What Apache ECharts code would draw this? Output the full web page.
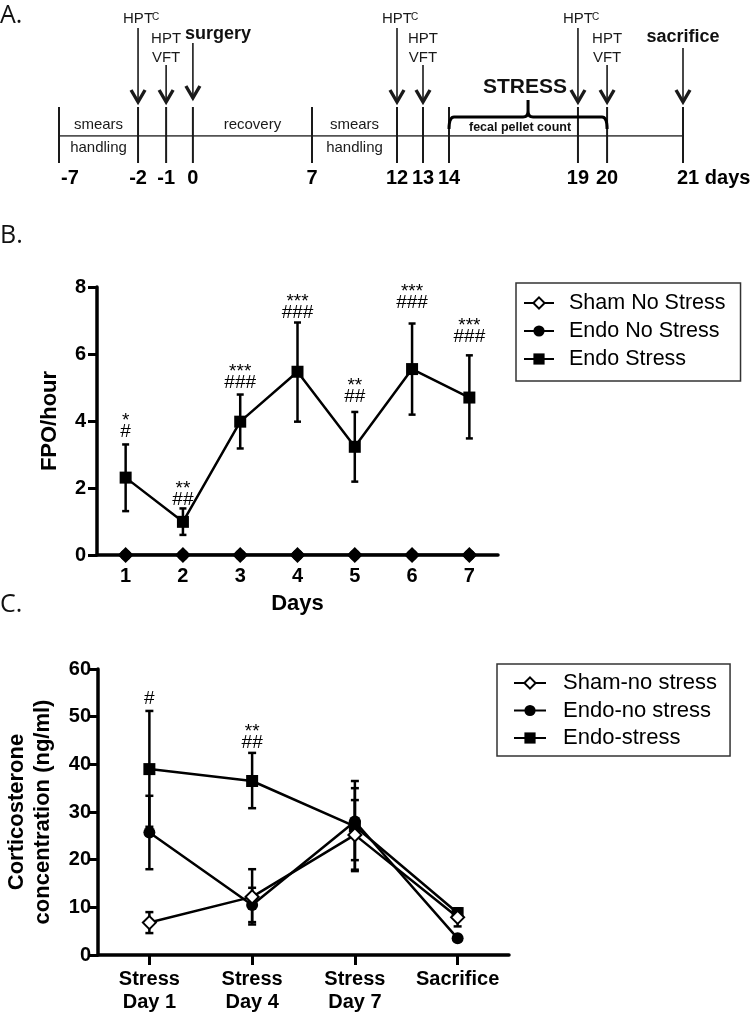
<!DOCTYPE html>
<html><head><meta charset="utf-8">
<script src="https://cdn.jsdelivr.net/npm/echarts@6/dist/echarts.min.js"></script>
<style>html,body{margin:0;padding:0;background:#fff}#c{width:750px;height:1016px}</style>
</head><body><div id="c"></div>
<script>
// ---------- Panel A: timeline (schematic positions) ----------
const timelineDays = ['-7','-2','-1','0','7','12','13','14','19','20','21'];
const timelinePos  = [0, 3.04, 4.12, 5.15, 9.73, 13, 14, 15, 19.96, 21.08, 24];
const eventDays  = ['-2','-1','0','12','13','19','20','21'];
const eventKinds = ['hptc','hptvft','surgery','hptc','hptvft','hptc','hptvft','sacrifice'];
const periodFrom  = ['-7','0','7'];
const periodTo    = ['-2','7','12'];
const periodAbove = ['smears','recovery','smears'];
const periodBelow = ['handling','','handling'];
const stressFrom = '14', stressTo = '20';

// ---------- Panel B: FPO/hour ----------
const fpoDays = ['1','2','3','4','5','6','7'];
const fpoShamNoStress = [0,0,0,0,0,0,0];
const fpoEndoNoStress = [0,0,0,0,0,0,0];
const fpoEndoStress     = [2.31,0.99,3.98,5.47,3.23,5.55,4.70];
const fpoEndoStressLow  = [1.31,0.60,3.18,3.98,2.19,4.19,3.48];
const fpoEndoStressHigh = [3.30,1.39,4.79,6.94,4.27,6.91,5.96];
const fpoStars  = ['*','**','***','***','**','***','***'];
const fpoHashes = ['#','##','###','###','##','###','###'];
const fpoSigY   = [3.67,1.64,5.13,7.22,4.72,7.52,6.51];

// ---------- Panel C: corticosterone ----------
const cortCats = ['Stress\nDay 1','Stress\nDay 4','Stress\nDay 7','Sacrifice'];
const cortSham      = [6.8,12.2,25.2,7.9];
const cortShamLow   = [4.6,6.4,17.9,6.0];
const cortShamHigh  = [9.0,18.0,32.5,9.2];
const cortEndoNo     = [25.7,10.5,28.0,3.5];
const cortEndoNoLow  = [18.0,6.9,19.9,3.0];
const cortEndoNoHigh = [33.4,14.1,35.0,4.0];
const cortEndoStress     = [39.0,36.5,27.0,8.8];
const cortEndoStressLow  = [26.9,30.8,17.6,7.8];
const cortEndoStressHigh = [51.2,42.4,36.5,9.8];
const cortStars  = ['','**'];
const cortHashes = ['#','##'];
const cortSigY   = [53.7,44.5];

const FONT = "'Liberation Sans', Arial, Helvetica, sans-serif";
const INK = '#1a1a1a';
function posOf(d){ return timelinePos[timelineDays.indexOf(d)]; }

function errorBarSeries(gi, low, high, capHalf, z){
  return {
    type:'custom', xAxisIndex:gi, yAxisIndex:gi, z:z||1,
    data: low.map((v,i)=>[i, v, high[i]]),
    renderItem(params, api){
      const a = api.coord([api.value(0), api.value(1)]);
      const b = api.coord([api.value(0), api.value(2)]);
      const st = {stroke:'#000', lineWidth:2.5};
      return {type:'group', children:[
        {type:'line', shape:{x1:a[0],y1:a[1],x2:b[0],y2:b[1]}, style:st},
        {type:'line', shape:{x1:a[0]-capHalf,y1:a[1],x2:a[0]+capHalf,y2:a[1]}, style:st},
        {type:'line', shape:{x1:b[0]-capHalf,y1:b[1],x2:b[0]+capHalf,y2:b[1]}, style:st}
      ]};
    }
  };
}
function sigSeries(gi, yv, stars, hashes){
  return {
    type:'custom', xAxisIndex:gi, yAxisIndex:gi, z:5,
    data: yv.map((v,i)=>[i, v]),
    renderItem(params, api){
      const i = params.dataIndex;
      const p = api.coord([api.value(0), api.value(1)]);
      return {type:'group', children:[
        {type:'text', style:{text:hashes[i], x:p[0], y:p[1], align:'center', verticalAlign:'middle', font:'19px '+FONT, fill:'#000'}},
        {type:'text', style:{text:stars[i], x:p[0], y:p[1]-11, align:'center', verticalAlign:'middle', font:'19px '+FONT, fill:'#000'}}
      ]};
    }
  };
}
function lineSeries(name, gi, data, symbol, size, hollow){
  return {
    name, type:'line', xAxisIndex:gi, yAxisIndex:gi, data, z:3,
    symbol, symbolSize:size, showAllSymbol:true,
    lineStyle:{color:'#000', width:2.5},
    itemStyle: hollow ? {color:'#fff', borderColor:'#000', borderWidth:2} : {color:'#000', borderColor:'#000', borderWidth:0},
    emphasis:{disabled:true}
  };
}

const axisLabelStyle = {color:'#000', fontFamily:FONT, fontWeight:'bold', fontSize:20};
const nameStyle = {color:'#000', fontFamily:FONT, fontWeight:'bold', fontSize:22};
const thickLine = {show:true, lineStyle:{color:'#000', width:3.5}};

const chart = echarts.init(document.getElementById('c'), null, {renderer:'canvas'});
chart.setOption({
  animation:false,
  backgroundColor:'#fff',
  title:[
    {text:'A.', left:0, top:3, padding:0, textStyle:{fontFamily:"'Open Sans', sans-serif", fontWeight:'normal', fontSize:25, color:'#111'}},
    {text:'B.', left:0, top:223, padding:0, textStyle:{fontFamily:"'Open Sans', sans-serif", fontWeight:'normal', fontSize:25, color:'#111'}},
    {text:'C.', left:0, top:592, padding:0, textStyle:{fontFamily:"'Open Sans', sans-serif", fontWeight:'normal', fontSize:25, color:'#111'}}
  ],
  legend:[
    {data:['Sham No Stress','Endo No Stress','Endo Stress'], orient:'vertical', left:516, top:283,
     padding:[9,15,11,7], itemGap:6, itemWidth:30, itemHeight:14, borderColor:'#333', borderWidth:1.5,
     selectedMode:false, textStyle:{fontFamily:FONT, fontSize:21.5, color:'#000', lineHeight:20, padding:[0,0,0,10]}},
    {data:['Sham-no stress','Endo-no stress','Endo-stress'], orient:'vertical', left:497, top:664,
     padding:[8,13,7,16], itemGap:5.5, itemWidth:32, itemHeight:14, borderColor:'#333', borderWidth:1.5,
     selectedMode:false, textStyle:{fontFamily:FONT, fontSize:22, color:'#000', lineHeight:20, padding:[0,0,0,12]}}
  ],
  grid:[
    {left:59, top:0, width:624, height:136, outerBoundsMode:'none'},
    {left:97, top:287, width:401, height:268, outerBoundsMode:'none'},
    {left:98, top:669, width:411, height:286, outerBoundsMode:'none'}
  ],
  xAxis:[
    {gridIndex:0, type:'value', min:0, max:24, show:false},
    {gridIndex:1, type:'category', data:fpoDays, boundaryGap:true,
     axisLine:thickLine, axisTick:{show:true, alignWithLabel:true, length:5, lineStyle:{color:'#000', width:3}},
     axisLabel:Object.assign({margin:11}, axisLabelStyle),
     name:'Days', nameLocation:'middle', nameGap:38, nameTextStyle:nameStyle},
    {gridIndex:2, type:'category', data:cortCats, boundaryGap:true,
     axisLine:thickLine, axisTick:{show:true, alignWithLabel:true, length:10, lineStyle:{color:'#000', width:3}},
     axisLabel:Object.assign({margin:13, lineHeight:23, interval:0}, axisLabelStyle)}
  ],
  yAxis:[
    {gridIndex:0, type:'value', min:0, max:1, show:false},
    {gridIndex:1, type:'value', min:0, max:8, interval:2,
     axisLine:thickLine, axisTick:{show:true, length:9, lineStyle:{color:'#000', width:3}},
     axisLabel:Object.assign({margin:11}, axisLabelStyle), splitLine:{show:false},
     name:'FPO/hour', nameLocation:'middle', nameGap:36, nameRotate:90, nameTextStyle:nameStyle},
    {gridIndex:2, type:'value', min:0, max:60, interval:10,
     axisLine:thickLine, axisTick:{show:true, length:8, lineStyle:{color:'#000', width:3}},
     axisLabel:Object.assign({margin:7}, axisLabelStyle), splitLine:{show:false},
     name:'Corticosterone\nconcentration (ng/ml)', nameLocation:'middle', nameGap:42, nameRotate:90,
     nameTextStyle:Object.assign({lineHeight:26}, nameStyle)}
  ],
  series:[
    // ---- Panel A ----
    {type:'line', xAxisIndex:0, yAxisIndex:0, data:[[timelinePos[0],0],[timelinePos[timelinePos.length-1],0]],
     symbol:'none', lineStyle:{color:INK, width:1.6}, silent:true, z:1},
    {type:'custom', xAxisIndex:0, yAxisIndex:0, z:2,
     data: timelinePos.map(p=>[p,0]),
     renderItem(params, api){
       const i = params.dataIndex, n = timelineDays.length;
       const p = api.coord([api.value(0), 0]);
       const first = i===0, last = i===n-1;
       return {type:'group', children:[
         {type:'line', shape:{x1:p[0],y1:p[1]-29,x2:p[0],y2:p[1]+27}, style:{stroke:INK, lineWidth:2}},
         {type:'text', style:{text: last ? timelineDays[i]+' days' : timelineDays[i],
           x: first ? p[0]+2 : (last ? p[0]-6 : p[0]), y:p[1]+42,
           align:(first||last)?'left':'center', verticalAlign:'middle', font:'bold 20px '+FONT, fill:'#000'}}
       ]};
     }},
    {type:'custom', xAxisIndex:0, yAxisIndex:0, z:2,
     data: periodFrom.map((d,i)=>[posOf(d), posOf(periodTo[i])]),
     renderItem(params, api){
       const i = params.dataIndex;
       const a = api.coord([api.value(0),0]), b = api.coord([api.value(1),0]);
       const cx = (a[0]+b[0])/2;
       const st = {align:'center', verticalAlign:'middle', font:'15px '+FONT, fill:INK};
       return {type:'group', children:[
         {type:'text', style:Object.assign({text:periodAbove[i], x:cx, y:a[1]-11}, st)},
         {type:'text', style:Object.assign({text:periodBelow[i], x:cx, y:a[1]+12}, st)}
       ]};
     }},
    {type:'custom', xAxisIndex:0, yAxisIndex:0, z:3,
     data: eventDays.map(d=>[posOf(d),0]),
     renderItem(params, api){
       const i = params.dataIndex, k = eventKinds[i];
       const p = api.coord([api.value(0),0]);
       const x = p[0], b = p[1];
       const top = {hptc:-108, hptvft:-71, surgery:-93, sacrifice:-88}[k];
       const tip = k==='surgery' ? -38 : -34;
       const ch = [
         {type:'line', shape:{x1:x,y1:b+top,x2:x,y2:b+tip}, style:{stroke:INK, lineWidth:1.6}},
         {type:'polyline', shape:{points:[[x-7,b+tip-12],[x,b+tip],[x+7,b+tip-12]]}, style:{stroke:INK, lineWidth:3.4, fill:null}}
       ];
       const reg = {align:'center', verticalAlign:'middle', font:'15px '+FONT, fill:INK};
       if(k==='hptc'){
         ch.push({type:'text', style:Object.assign({text:'HPT', x:x, y:b-117}, reg)});
         ch.push({type:'text', style:{text:'C', x:x+14, y:b-119, align:'left', verticalAlign:'middle', font:'10px '+FONT, fill:INK}});
       } else if(k==='hptvft'){
         ch.push({type:'text', style:Object.assign({text:'HPT', x:x, y:b-97}, reg)});
         ch.push({type:'text', style:Object.assign({text:'VFT', x:x, y:b-78}, reg)});
       } else if(k==='surgery'){
         ch.push({type:'text', style:{text:'surgery', x:x-8, y:b-102, align:'left', verticalAlign:'middle', font:'bold 18px '+FONT, fill:'#111'}});
       } else {
         ch.push({type:'text', style:{text:'sacrifice', x:x, y:b-99, align:'center', verticalAlign:'middle', font:'bold 18px '+FONT, fill:'#111'}});
       }
       return {type:'group', children:ch};
     }},
    {type:'custom', xAxisIndex:0, yAxisIndex:0, z:3,
     data: [[posOf(stressFrom), posOf(stressTo)]],
     renderItem(params, api){
       const a = api.coord([api.value(0),0]), c = api.coord([api.value(1),0]);
       const x1=a[0], x2=c[0], b=a[1], xm=(x1+x2)/2, L=b-19;
       const d = `M${x1} ${b-7} Q${x1} ${L} ${x1+5} ${L} L${xm-5} ${L} Q${xm} ${L} ${xm} ${L-6} L${xm} ${L-17} L${xm} ${L-6} Q${xm} ${L} ${xm+5} ${L} L${x2-5} ${L} Q${x2} ${L} ${x2} ${b-7}`;
       return {type:'group', children:[
         {type:'path', shape:{pathData:d}, style:{stroke:'#000', lineWidth:3, fill:null}},
         {type:'text', style:{text:'STRESS', x:xm-3, y:b-49, align:'center', verticalAlign:'middle', font:'bold 21px '+FONT, fill:'#111'}},
         {type:'text', style:{text:'fecal pellet count', x:xm-8, y:b-8, align:'center', verticalAlign:'middle', font:'bold 12.5px '+FONT, fill:'#111'}}
       ]};
     }},
    // ---- Panel B ----
    errorBarSeries(1, fpoEndoStressLow, fpoEndoStressHigh, 3.5),
    lineSeries('Sham No Stress', 1, fpoShamNoStress, 'diamond', 13, true),
    lineSeries('Endo No Stress', 1, fpoEndoNoStress, 'circle', 11, false),
    lineSeries('Endo Stress', 1, fpoEndoStress, 'rect', 12, false),
    sigSeries(1, fpoSigY, fpoStars, fpoHashes),
    // ---- Panel C ----
    errorBarSeries(2, cortEndoStressLow, cortEndoStressHigh, 4),
    errorBarSeries(2, cortEndoNoLow, cortEndoNoHigh, 4),
    errorBarSeries(2, cortShamLow, cortShamHigh, 4),
    lineSeries('Endo-stress', 2, cortEndoStress, 'rect', 12, false),
    lineSeries('Endo-no stress', 2, cortEndoNo, 'circle', 12, false),
    lineSeries('Sham-no stress', 2, cortSham, 'diamond', 13, true),
    sigSeries(2, cortSigY, cortStars, cortHashes)
  ]
});
</script></body></html>
